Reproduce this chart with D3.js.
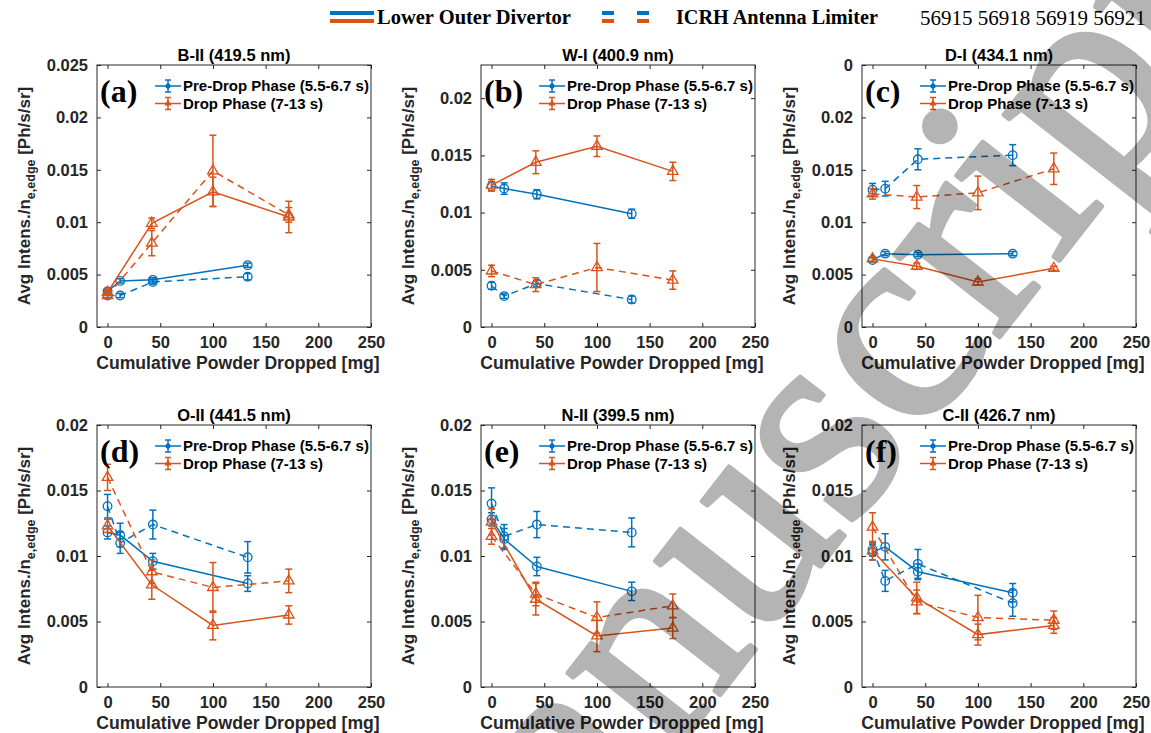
<!DOCTYPE html>
<html><head><meta charset="utf-8">
<script src="https://cdn.jsdelivr.net/npm/d3@7/dist/d3.min.js"></script>
<style>body{margin:0;background:#fff}svg{display:block}</style>
</head><body>
<script>
// ---- data ----
const xPre  = [0, 12, 43, 133];    // Pre-Drop phase x positions (mg)
const xDrop = [0, 42, 100, 172];   // Drop phase x positions (mg)

const panelTitles = ["B-II (419.5 nm)","W-I (400.9 nm)","D-I (434.1 nm)","O-II (441.5 nm)","N-II (399.5 nm)","C-II (426.7 nm)"];
const panelLetters = ["(a)","(b)","(c)","(d)","(e)","(f)"];
const yMax = [0.025, 0.0229, 0.025, 0.02, 0.02, 0.02];
const yTickValues = [
  [0,0.005,0.01,0.015,0.02,0.025],
  [0,0.005,0.01,0.015,0.02],
  [0,0.005,0.01,0.015,0.02,0.025],
  [0,0.005,0.01,0.015,0.02],
  [0,0.005,0.01,0.015,0.02],
  [0,0.005,0.01,0.015,0.02]
];
const yTickLabels = [
  ["0","0.005","0.01","0.015","0.02","0.025"],
  ["0","0.005","0.01","0.015","0.02"],
  ["0","0.005","0.01","0.015","0.02","0"],
  ["0","0.005","0.01","0.015","0.02"],
  ["0","0.005","0.01","0.015","0.02"],
  ["0","0.005","0.01","0.015","0.02"]
];
const xTicks = [0,50,100,150,200,250];

// Lower Outer Divertor (solid) / ICRH Antenna Limiter (dashed)
const preDiv = [
  [0.0034,0.0044,0.0045,0.0059],[0.0123,0.0121,0.0116,0.0099],[0.0064,0.0070,0.0069,0.0070],
  [0.0118,0.0116,0.0096,0.0079],[0.0128,0.0113,0.0092,0.0073],[0.0103,0.0107,0.0088,0.0072]];
const preDivErr = [
  [0.0002,0.0002,0.0002,0.0002],[0.0004,0.0005,0.0004,0.0004],[0.0002,0.0002,0.0002,0.0002],
  [0.0005,0.0009,0.0006,0.0006],[0.0005,0.0008,0.0007,0.0007],[0.0006,0.0010,0.0006,0.0007]];
const preICRH = [
  [0.0030,0.0030,0.0043,0.0048],[0.0036,0.0027,0.0038,0.0024],[0.0131,0.0132,0.0160,0.0164],
  [0.0138,0.0110,0.0124,0.0099],[0.0140,0.0115,0.0124,0.0118],[0.0105,0.0081,0.0094,0.0064]];
const preICRHErr = [
  [0.0002,0.0002,0.0002,0.0003],[0.0003,0.0002,0.0003,0.0003],[0.0006,0.0007,0.0010,0.0010],
  [0.0009,0.0008,0.0011,0.0012],[0.0012,0.0009,0.0010,0.0011],[0.0005,0.0008,0.0011,0.0010]];
const dropDiv = [
  [0.0033,0.0099,0.0129,0.0105],[0.0124,0.0144,0.0158,0.0136],[0.0065,0.0058,0.0043,0.0056],
  [0.0123,0.0078,0.0047,0.0055],[0.0126,0.0067,0.0039,0.0045],[0.0104,0.0068,0.0040,0.0047]];
const dropDivErr = [
  [0.0002,0.0005,0.0014,0.0015],[0.0005,0.0010,0.0009,0.0008],[0.0002,0.0003,0.0003,0.0002],
  [0.0005,0.0011,0.0011,0.0007],[0.0010,0.0012,0.0012,0.0008],[0.0007,0.0012,0.0008,0.0006]];
const dropICRH = [
  [0.0030,0.0080,0.0149,0.0107],[0.0049,0.0037,0.0052,0.0041],[0.0127,0.0124,0.0128,0.0151],
  [0.0160,0.0088,0.0076,0.0081],[0.0115,0.0071,0.0053,0.0062],[0.0122,0.0065,0.0053,0.0051]];
const dropICRHErr = [
  [0.0002,0.0012,0.0034,0.0007],[0.0005,0.0006,0.0021,0.0008],[0.0005,0.0011,0.0016,0.0015],
  [0.0010,0.0009,0.0019,0.0009],[0.0006,0.0009,0.0012,0.0009],[0.0011,0.0009,0.0017,0.0007]];

const legendLabels = ["Pre-Drop Phase (5.5-6.7 s)","Drop Phase (7-13 s)"];
const topLegend = ["Lower Outer Divertor","ICRH Antenna Limiter","56915 56918 56919 56921"];
const watermark = "Accepted Manuscript";

// ---- styles ----
const BLUE = "#0072BD", ORANGE = "#D95319", AX = "#262626";
const W = 1151, H = 733;
const colLeft = [97, 481, 862], rowTop = [65, 425];
const PW = 274, PH = 262;
const SANS = "'Liberation Sans', Arial, Helvetica, sans-serif";
const SERIF = "'Liberation Serif', 'Times New Roman', serif";

const svg = d3.select("body").append("svg").attr("width", W).attr("height", H)
  .style("background", "#fff");

// top legend
const tl = svg.append("g");
tl.append("line").attr("x1",330).attr("x2",374).attr("y1",13).attr("y2",13).attr("stroke",BLUE).attr("stroke-width",4);
tl.append("line").attr("x1",330).attr("x2",374).attr("y1",21).attr("y2",21).attr("stroke",ORANGE).attr("stroke-width",4);
tl.append("text").attr("x",377).attr("y",24).attr("font-family",SERIF).attr("font-weight","bold").attr("font-size",20.5).attr("fill","#000").text(topLegend[0]);
[602, 637].forEach(x0 => {
  tl.append("line").attr("x1",x0).attr("x2",x0+12).attr("y1",13).attr("y2",13).attr("stroke",BLUE).attr("stroke-width",4);
  tl.append("line").attr("x1",x0).attr("x2",x0+12).attr("y1",21).attr("y2",21).attr("stroke",ORANGE).attr("stroke-width",4);
});
tl.append("text").attr("x",676).attr("y",24).attr("font-family",SERIF).attr("font-weight","bold").attr("font-size",20.2).attr("fill","#000").text(topLegend[1]);
tl.append("text").attr("x",920).attr("y",25).attr("font-family",SERIF).attr("font-size",21).attr("fill","#000").text(topLegend[2]);

const tri = d3.symbol().type(d3.symbolTriangle).size(48);

function drawPanel(i) {
  const left = colLeft[i % 3], top = rowTop[Math.floor(i / 3)];
  const x = d3.scaleLinear().domain([-10, 250]).range([left, left + PW]);
  const y = d3.scaleLinear().domain([0, yMax[i]]).range([top + PH, top]);
  const g = svg.append("g");

  g.append("rect").attr("x", left).attr("y", top).attr("width", PW).attr("height", PH)
    .attr("fill", "none").attr("stroke", AX).attr("stroke-width", 1);

  const xb = g.append("g").attr("transform", `translate(0,${top + PH})`)
    .call(d3.axisBottom(x).tickValues(xTicks).tickSize(-4).tickPadding(9).tickFormat(d3.format("d")));
  const xt = g.append("g").attr("transform", `translate(0,${top})`)
    .call(d3.axisTop(x).tickValues(xTicks).tickSize(-4).tickFormat(""));
  const yl = g.append("g").attr("transform", `translate(${left},0)`)
    .call(d3.axisLeft(y).tickValues(yTickValues[i]).tickSize(-4).tickPadding(9)
      .tickFormat((d, k) => yTickLabels[i][k]));
  const yr = g.append("g").attr("transform", `translate(${left + PW},0)`)
    .call(d3.axisRight(y).tickValues(yTickValues[i]).tickSize(-4).tickFormat(""));
  [xb, xt, yl, yr].forEach(a => {
    a.select(".domain").remove();
    a.selectAll("line").attr("stroke", AX);
    a.selectAll("text").attr("fill", AX).attr("font-family", SANS).attr("font-weight", "bold").attr("font-size", 16.5);
  });

  g.append("text").attr("x", left + PW / 2).attr("y", top - 4).attr("text-anchor", "middle")
    .attr("font-family", SANS).attr("font-weight", "bold").attr("font-size", 16.5).attr("fill", "#000")
    .text(panelTitles[i]);
  g.append("text").attr("x", left + PW / 2 + 4).attr("y", top + PH + 42).attr("text-anchor", "middle")
    .attr("font-family", SANS).attr("font-weight", "bold").attr("font-size", 17.6).attr("fill", AX)
    .text("Cumulative Powder Dropped [mg]");
  const ylab = g.append("text")
    .attr("transform", `translate(${left - 67},${top + PH / 2}) rotate(-90)`)
    .attr("text-anchor", "middle").attr("font-family", SANS).attr("font-weight", "bold")
    .attr("font-size", 17).attr("fill", AX);
  ylab.append("tspan").text("Avg Intens./n");
  ylab.append("tspan").attr("font-size", 12.5).attr("dy", 5).text("e,edge");
  ylab.append("tspan").attr("dy", -5).text(" [Ph/s/sr]");

  const series = [
    {xs: xPre,  v: preDiv[i],   e: preDivErr[i],   c: BLUE,   dash: null,  m: "o"},
    {xs: xPre,  v: preICRH[i],  e: preICRHErr[i],  c: BLUE,   dash: "7,5", m: "o"},
    {xs: xDrop, v: dropDiv[i],  e: dropDivErr[i],  c: ORANGE, dash: null,  m: "t"},
    {xs: xDrop, v: dropICRH[i], e: dropICRHErr[i], c: ORANGE, dash: "7,5", m: "t"}
  ];
  const line = d3.line().x(d => x(d[0])).y(d => y(d[1]));
  series.forEach(s => {
    const pts = s.xs.map((xx, k) => [xx, s.v[k], s.e[k]]);
    const sg = g.append("g");
    sg.append("path").attr("d", line(pts)).attr("fill", "none").attr("stroke", s.c)
      .attr("stroke-width", 1.5).attr("stroke-dasharray", s.dash);
    pts.forEach(p => {
      const cx = x(p[0]), y1 = y(p[1] - p[2]), y2 = y(p[1] + p[2]);
      sg.append("line").attr("x1", cx).attr("x2", cx).attr("y1", y1).attr("y2", y2).attr("stroke", s.c).attr("stroke-width", 1.5);
      [y1, y2].forEach(yy => sg.append("line").attr("x1", cx - 3.5).attr("x2", cx + 3.5).attr("y1", yy).attr("y2", yy).attr("stroke", s.c).attr("stroke-width", 1.5));
      if (s.m === "o") {
        sg.append("circle").attr("cx", cx).attr("cy", y(p[1])).attr("r", 4.3).attr("fill", "none").attr("stroke", s.c).attr("stroke-width", 1.3);
      } else {
        sg.append("path").attr("d", tri()).attr("transform", `translate(${cx},${y(p[1])})`).attr("fill", "none").attr("stroke", s.c).attr("stroke-width", 1.3);
      }
    });
  });

  const lg = g.append("g");
  [[BLUE, "o"], [ORANGE, "t"]].forEach((d, k) => {
    const ly = top + 21 + k * 17.5, lx1 = left + 58, lx2 = left + 84, mx = (lx1 + lx2) / 2;
    lg.append("line").attr("x1", lx1).attr("x2", lx2).attr("y1", ly).attr("y2", ly).attr("stroke", d[0]).attr("stroke-width", 1.5);
    lg.append("line").attr("x1", mx).attr("x2", mx).attr("y1", ly - 6).attr("y2", ly + 6).attr("stroke", d[0]).attr("stroke-width", 1.5);
    [ly - 6, ly + 6].forEach(yy => lg.append("line").attr("x1", mx - 3).attr("x2", mx + 3).attr("y1", yy).attr("y2", yy).attr("stroke", d[0]).attr("stroke-width", 1.5));
    if (d[1] === "o") lg.append("circle").attr("cx", mx).attr("cy", ly).attr("r", 2.6).attr("fill", d[0]);
    else lg.append("path").attr("d", d3.symbol().type(d3.symbolTriangle).size(22)()).attr("transform", `translate(${mx},${ly})`).attr("fill", d[0]);
    lg.append("text").attr("x", lx2 + 2).attr("y", ly + 5).attr("font-family", SANS).attr("font-weight", "bold")
      .attr("font-size", 15).attr("fill", "#000").text(legendLabels[k]);
  });
  g.append("text").attr("x", left + 3).attr("y", top + 37).attr("font-family", SERIF).attr("font-weight", "bold")
    .attr("font-size", 32).attr("fill", "#000").text(panelLetters[i]);
}
for (let i = 0; i < 6; i++) drawPanel(i);

// watermark (semi-transparent, over the plots)
svg.append("g").attr("opacity", 0.29)
  .append("text").attr("transform", "translate(1244,24) rotate(-52)")
  .attr("text-anchor", "end")
  .attr("font-family", SERIF).attr("font-size", 290)
  .attr("fill", "#000").attr("stroke", "#000").attr("stroke-width", 5).attr("stroke-linejoin", "round")
  .text(watermark);
</script>
</body></html>
